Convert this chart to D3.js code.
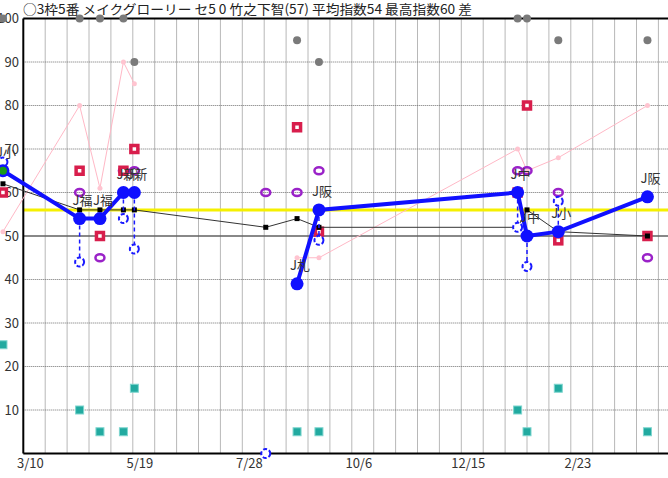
<!DOCTYPE html>
<html><head><meta charset="utf-8">
<script src="https://cdn.jsdelivr.net/npm/d3@7"></script>
<style>
html,body{margin:0;padding:0;background:#fff;overflow:hidden}
svg{display:block}
text{font-family:"Noto Sans CJK JP","Noto Sans",sans-serif}
</style></head>
<body>
<script>
// ---------- data ----------
const titleText = "○3枠5番 メイクグローリー セ5 0 竹之下智(57) 平均指数54 最高指数60 差";
const raceDates = ["2021-02-25","2021-04-15","2021-04-28","2021-05-13","2021-05-20","2021-08-12","2021-09-01","2021-09-15","2022-01-20","2022-01-26","2022-02-15","2022-04-13"];
const courseLabels = ["J小","J福","J福","J新","J新","","J札","J阪","J中","J中","J小","J阪"];
const mainIndex  = [65,54,54,60,60,null,39,56,60,50,51,59];
const subIndex   = [67,44,null,54,47,0,null,49,52,43,58,null];
const baseIndex  = [62,56,56,56,56,52,54,52,52,56,51,50];
const redMark    = [60,65,50,65,70,null,75,51,60,80,49,50];
const purpleMark = [null,60,45,65,65,60,60,65,65,65,60,45];
const greyMark   = [100,100,100,100,90,null,95,90,100,100,95,95];
const tealMark   = [25,10,5,5,15,null,5,5,10,5,15,5];
const pinkMark   = [51,80,61,90,85,null,45,45,70,65,68,80];
const greenMark  = [65,null,null,null,null,null,null,null,null,null,null,null];
const avgLine = 56;
const refLine = 50;
const yTicks = [100,90,80,70,60,50,40,30,20,10];
const xTickLabels = ["3/10","5/19","7/28","10/6","12/15","2/23","5/4"];
const axisStart = "2021-03-10", axisEnd = "2022-05-04";

// ---------- setup ----------
const W = 668, H = 478;
const parse = d3.utcParse("%Y-%m-%d");
const svg = d3.select("body").append("svg").attr("width", W).attr("height", H);
const x = d3.scaleUtc().domain([parse(axisStart), parse(axisEnd)]).range([23.3, 23.3 + 420 * 1.5643]);
const y = d3.scaleLinear().domain([0, 100]).range([453.5, 18.5]);
const races = raceDates.map((d, i) => ({
  date: parse(d), label: courseLabels[i], main: mainIndex[i], sub: subIndex[i], base: baseIndex[i],
  red: redMark[i], purple: purpleMark[i], grey: greyMark[i], teal: tealMark[i], pink: pinkMark[i], green: greenMark[i]
}));

// ---------- grid ----------
const gridDates = d3.range(1, 31).map(i => d3.utcDay.offset(parse(axisStart), 14 * i));
const grid = svg.append("g");
grid.selectAll("line.v").data(gridDates).join("line")
  .attr("x1", d => x(d)).attr("x2", d => x(d)).attr("y1", y(100)).attr("y2", y(0))
  .attr("stroke", "#707070").attr("stroke-width", 1).attr("stroke-dasharray", "1 1");
grid.selectAll("line.h").data(yTicks.filter(v => v !== 100 && v !== refLine)).join("line")
  .attr("x1", x.range()[0]).attr("x2", W).attr("y1", d => y(d)).attr("y2", d => y(d))
  .attr("stroke", "#707070").attr("stroke-width", 1).attr("stroke-dasharray", "1 1");
svg.append("line").attr("x1", x.range()[0]).attr("x2", W).attr("y1", y(refLine)).attr("y2", y(refLine))
  .attr("stroke", "#606060").attr("stroke-width", 1.5);
svg.append("line").attr("x1", x.range()[0]).attr("x2", W).attr("y1", y(avgLine)).attr("y2", y(avgLine))
  .attr("stroke", "#f5f000").attr("stroke-width", 3);

// frame
svg.append("line").attr("x1", x.range()[0]).attr("x2", W).attr("y1", y(100)).attr("y2", y(100)).attr("stroke", "#000").attr("stroke-width", 2);
svg.append("line").attr("x1", x.range()[0]).attr("x2", W).attr("y1", y(0)).attr("y2", y(0)).attr("stroke", "#000").attr("stroke-width", 2);
svg.append("line").attr("x1", x.range()[0]).attr("x2", x.range()[0]).attr("y1", y(100)).attr("y2", y(0)).attr("stroke", "#000").attr("stroke-width", 2);

// axes labels
const yAxis = d3.axisLeft(y).tickValues(yTicks).tickSize(0).tickPadding(0);
svg.append("g").attr("transform", "translate(19,0)").call(yAxis)
  .call(g => g.select(".domain").remove())
  .selectAll("text").attr("font-size", 13).attr("fill", "#333").attr("font-family", "\"Noto Sans CJK JP\",sans-serif");
const xTickDates = xTickLabels.map((_, i) => d3.utcDay.offset(parse(axisStart), 70 * i));
const xAxis = d3.axisBottom(x).tickValues(xTickDates).tickSize(0).tickPadding(0).tickFormat((d, i) => xTickLabels[i]);
svg.append("g").attr("transform", "translate(6.5," + (y(0) + 5) + ")").call(xAxis)
  .call(g => g.select(".domain").remove())
  .selectAll("text").attr("font-size", 13).attr("fill", "#333").attr("font-family", "\"Noto Sans CJK JP\",sans-serif");

// title
svg.append("text").attr("x", 23).attr("y", 14).attr("font-size", 13).attr("fill", "#222")
  .attr("textLength", 449).attr("lengthAdjust", "spacingAndGlyphs").text(titleText);

// ---------- series ----------
const pinkLine = d3.line().defined(d => d.pink != null).x(d => x(d.date)).y(d => y(d.pink));
svg.append("path").datum(races).attr("d", pinkLine).attr("fill", "none").attr("stroke", "#ffb8c6").attr("stroke-width", 1);
svg.selectAll("circle.pink").data(races.filter(d => d.pink != null)).join("circle")
  .attr("cx", d => x(d.date)).attr("cy", d => y(d.pink)).attr("r", 2.5).attr("fill", "#ffc4d0");

svg.selectAll("circle.grey").data(races.filter(d => d.grey != null)).join("circle")
  .attr("cx", d => x(d.date)).attr("cy", d => y(d.grey)).attr("r", 4).attr("fill", "#7a7a7a");

svg.selectAll("rect.teal").data(races.filter(d => d.teal != null)).join("rect")
  .attr("x", d => x(d.date) - 4).attr("y", d => y(d.teal) - 4).attr("width", 8).attr("height", 8)
  .attr("fill", "#22aaa0").attr("stroke", "#7fd6cf").attr("stroke-width", 1);

svg.selectAll("ellipse.purple").data(races.filter(d => d.purple != null)).join("ellipse")
  .attr("cx", d => x(d.date)).attr("cy", d => y(d.purple)).attr("rx", 4.5).attr("ry", 3.5)
  .attr("fill", "none").attr("stroke", "#9a22c8").attr("stroke-width", 2.5);

svg.selectAll("rect.red").data(races.filter(d => d.red != null)).join("rect")
  .attr("x", d => x(d.date) - 3.5).attr("y", d => y(d.red) - 3.5).attr("width", 7).attr("height", 7)
  .attr("fill", "#fff").attr("stroke", "#d81e4c").attr("stroke-width", 3.5);

const baseLine = d3.line().x(d => x(d.date)).y(d => y(d.base));
svg.append("path").datum(races).attr("d", baseLine).attr("fill", "none").attr("stroke", "#333").attr("stroke-width", 1);
svg.selectAll("rect.base").data(races).join("rect")
  .attr("x", d => x(d.date) - 2.5).attr("y", d => y(d.base) - 2.5).attr("width", 5).attr("height", 5).attr("fill", "#000");

// dashed link main -> sub
svg.selectAll("line.link").data(races.filter(d => d.main != null && d.sub != null)).join("line")
  .attr("x1", d => x(d.date)).attr("x2", d => x(d.date)).attr("y1", d => y(d.main)).attr("y2", d => y(d.sub))
  .attr("stroke", "#1a1aff").attr("stroke-width", 1.5).attr("stroke-dasharray", "4 3");
svg.selectAll("circle.sub").data(races.filter(d => d.sub != null)).join("circle")
  .attr("cx", d => x(d.date)).attr("cy", d => y(d.sub)).attr("r", 4.5)
  .attr("fill", "#fff").attr("stroke", "#1a1aff").attr("stroke-width", 2).attr("stroke-dasharray", "4 2");

const mainLine = d3.line().defined(d => d.main != null).x(d => x(d.date)).y(d => y(d.main));
svg.append("path").datum(races).attr("d", mainLine).attr("fill", "none").attr("stroke", "#1010ff").attr("stroke-width", 4);
svg.selectAll("circle.main").data(races.filter(d => d.main != null)).join("circle")
  .attr("cx", d => x(d.date)).attr("cy", d => y(d.main)).attr("r", 6.5).attr("fill", "#1010ff");
svg.selectAll("circle.green").data(races.filter(d => d.green != null)).join("circle")
  .attr("cx", d => x(d.date)).attr("cy", d => y(d.green)).attr("r", 4).attr("fill", "#1a9a1a");

svg.selectAll("text.lab").data(races.filter(d => d.main != null && d.label)).join("text")
  .attr("x", d => x(d.date) - 7).attr("y", d => y(d.main) - 14)
  .attr("font-size", 13).attr("fill", "#333").text(d => d.label);
</script>
</body></html>
